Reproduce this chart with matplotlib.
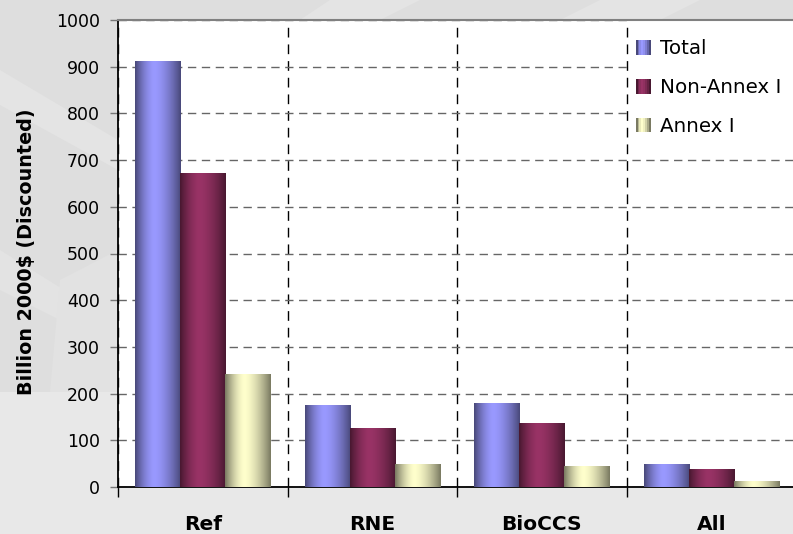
import numpy as np
import matplotlib
matplotlib.use("Agg")
import matplotlib.pyplot as plt
from matplotlib.patches import Rectangle, Polygon
from matplotlib.legend_handler import HandlerPatch
from matplotlib.colors import to_rgb

plt.rcParams['font.family'] = ['DejaVu Sans']

categories = ["Ref", "RNE", "BioCCS", "All"]
series_names = ["Total", "Non-Annex I", "Annex I"]
total = [912, 175, 178, 48]
non_annex1 = [671, 126, 135, 37]
annex1 = [240, 49, 43, 11]
series_values = [total, non_annex1, annex1]
colors = ["#9999ff", "#993366", "#ffffcc"]
yticks = [0, 100, 200, 300, 400, 500, 600, 700, 800, 900, 1000]


def shade_profile(n=64):
    t = np.linspace(0, 1, n)
    peak = 0.42
    f = np.where(t < peak,
                 1 - 0.52 * ((peak - t) / peak) ** 1.6,
                 1 - 0.52 * ((t - peak) / (1 - peak)) ** 1.6)
    return f


def gradient_img(color, n=64):
    c = np.array(to_rgb(color))
    f = shade_profile(n)
    img = np.clip(f[:, None] * c[None, :], 0, 1)
    return img[None, :, :]


fig = plt.figure(figsize=(7.93, 5.34), dpi=100)
fig.patch.set_facecolor("#e8e8e8")

# background watermark-like shapes
bg = fig.add_axes([0, 0, 1, 1], zorder=-10)
bg.set_xlim(0, 793)
bg.set_ylim(534, 0)
bg.axis("off")
bg.add_patch(Rectangle((0, 0), 793, 392, color="#dedede", lw=0))
bg.add_patch(Polygon([(0, 70), (118, 140), (118, 170), (0, 105)], closed=True, color="#e4e4e4", lw=0))
bg.add_patch(Polygon([(0, 250), (80, 300), (80, 330), (0, 290)], closed=True, color="#e3e3e3", lw=0))
bg.add_patch(Polygon([(330, 0), (420, 0), (380, 20), (300, 20)], closed=True, color="#e4e4e4", lw=0))
bg.add_patch(Polygon([(600, 0), (700, 0), (660, 20), (560, 20)], closed=True, color="#e4e4e4", lw=0))
bg.add_patch(Polygon([(60, 280), (118, 250), (118, 392), (50, 392)], closed=True, color="#e2e2e2", lw=0))

ax = fig.add_axes([118 / 793, 47 / 534, 678 / 793, 467 / 534])
ax.set_facecolor("white")

x = np.arange(len(categories))
bw = 0.266
offsets = [-bw, 0, bw]

handles = []
for vals, name, col, off in zip(series_values, series_names, colors, offsets):
    bars = ax.bar(x + off, vals, width=bw, color=col, label=name, zorder=3, lw=0)
    for p in bars.patches:
        x0 = p.get_x()
        w = p.get_width()
        h = p.get_height()
        ax.imshow(gradient_img(col), extent=(x0, x0 + w, 0, h),
                  aspect="auto", zorder=4, interpolation="bilinear")
    handles.append(bars)

ax.set_xlim(-0.5, len(categories) - 0.5)
ax.set_ylim(0, 1000)
ax.set_yticks(yticks)
ax.set_yticklabels([str(v) for v in yticks], fontsize=12.5)

ax.set_xticks(x)
ax.set_xticklabels(categories, fontsize=14.5, fontweight="bold")
ax.set_xticks(np.arange(len(categories) + 1) - 0.5, minor=True)
ax.tick_params(axis="x", which="major", length=0, pad=20)
ax.tick_params(axis="x", which="minor", length=7, width=1, color="black", direction="out")
ax.tick_params(axis="y", which="major", length=6, width=1, color="#777777", direction="out", pad=7)

ax.grid(True, axis="y", which="major", color="#666666", lw=1, linestyle=(0, (6, 4)), zorder=1)
ax.grid(True, axis="x", which="minor", color="black", lw=1, linestyle=(0, (7, 5)), zorder=1)
ax.set_axisbelow(True)

ax.spines["left"].set_color("black")
ax.spines["left"].set_linewidth(1.3)
ax.spines["bottom"].set_color("black")
ax.spines["bottom"].set_linewidth(1.3)
ax.spines["top"].set_color("#808080")
ax.spines["top"].set_linewidth(1.5)
ax.spines["right"].set_visible(False)

# white legend background area (covers horizontal gridlines, not the separator)
ax.add_patch(Rectangle(((629 - 118) / 678, (487 - 146) / 467), 0.3, 0.28,
                       transform=ax.transAxes, facecolor="white", edgecolor="none",
                       zorder=0.7, clip_on=True))

fig.text(27 / 793, 1 - 252 / 534, "Billion 2000$ (Discounted)", rotation=90,
         fontsize=13.8, fontweight="bold", ha="center", va="center")


class GradHandler(HandlerPatch):
    def __init__(self, color):
        super().__init__()
        self.color = color

    def create_artists(self, legend, orig_handle, xdescent, ydescent,
                       width, height, fontsize, trans):
        f = shade_profile(8)
        c = np.array(to_rgb(self.color))
        arts = []
        n = len(f)
        for i in range(n):
            r = Rectangle((-xdescent + width * i / n, -ydescent), width / n + 0.3, height,
                          facecolor=np.clip(f[i] * c, 0, 1), edgecolor="none", lw=0,
                          transform=trans)
            arts.append(r)
        return arts


leg = ax.legend(handles=[h.patches[0] for h in handles], labels=series_names,
                loc="upper left", bbox_to_anchor=(0.746, 0.984), frameon=False,
                fontsize=14.3, handlelength=0.75, handleheight=0.75,
                handletextpad=0.45, labelspacing=1.0, borderpad=0.1,
                handler_map={h.patches[0]: GradHandler(c) for h, c in zip(handles, colors)})
leg.set_zorder(5)

fig.savefig("out.png", dpi=100, facecolor=fig.get_facecolor())
